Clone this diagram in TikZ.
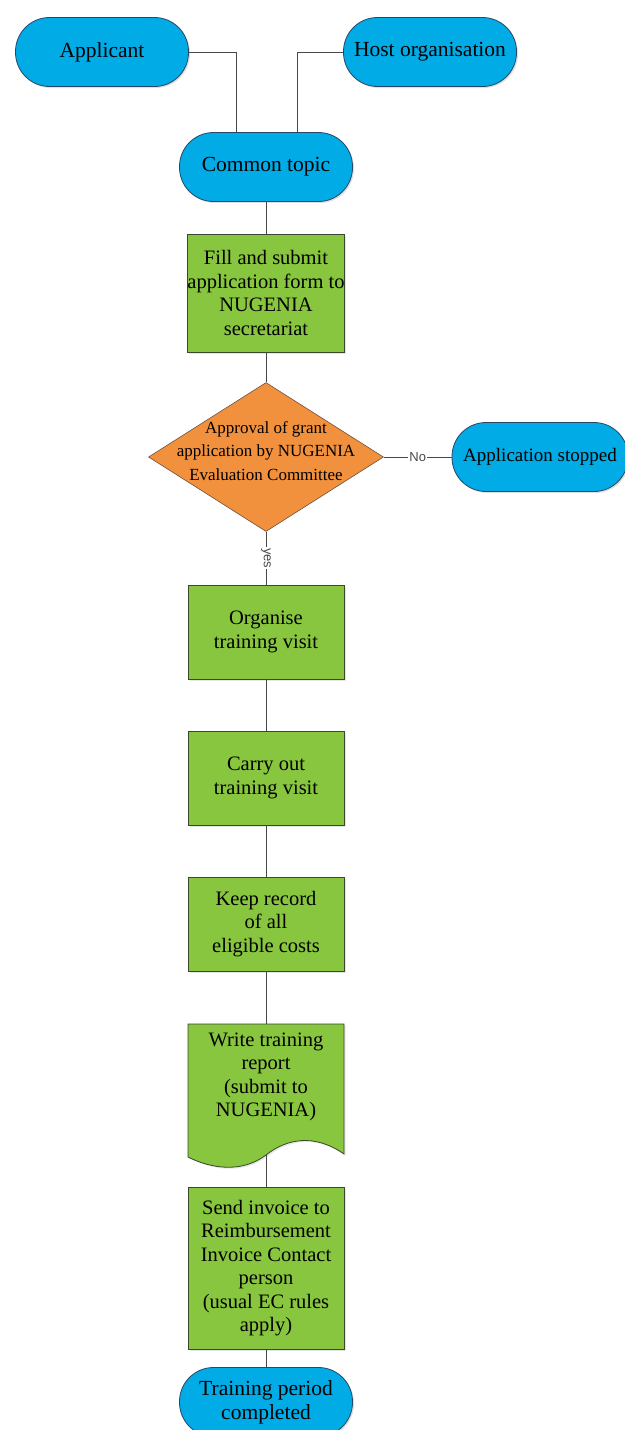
\documentclass[tikz,border=0pt]{standalone}
\usepackage{fontspec}
\setmainfont{Liberation Serif}
\setsansfont{Liberation Sans}
\usetikzlibrary{shapes,arrows,calc,shadows}

\definecolor{termblue}{RGB}{0,171,230}
\definecolor{termline}{RGB}{38,72,104}
\definecolor{actgreen}{RGB}{135,198,62}
\definecolor{actline}{RGB}{58,72,44}
\definecolor{askorange}{RGB}{241,145,62}
\definecolor{askline}{RGB}{110,80,60}
\definecolor{wire}{RGB}{72,72,72}

\begin{document}
\begin{tikzpicture}
  [
    x=1pt, y=-1pt,
    term/.style =
      {draw=termline, fill=termblue, line width=0.8pt, rounded corners=34pt,
       minimum width=173pt, minimum height=69pt, align=center,
       font=\fontsize{21.5}{24}\selectfont,
       drop shadow={opacity=0.25, shadow xshift=1.5pt, shadow yshift=-1.5pt}},
    act/.style =
      {draw=actline, fill=actgreen, line width=0.8pt, minimum width=156pt,
       inner xsep=0pt, align=center, font=\fontsize{20.5}{23.5}\selectfont,
       drop shadow={opacity=0.2, shadow xshift=1.5pt, shadow yshift=-1.5pt}},
    ask/.style =
      {diamond, draw=askline, fill=askorange, line width=0.6pt, inner sep=0pt,
       minimum width=235pt, minimum height=149pt},
    tag/.style =
      {fill=white, inner sep=1pt, text=wire, font=\sffamily\fontsize{13}{13}\selectfont},
    wire/.style = {draw=wire, line width=1pt}
  ]
  \useasboundingbox (0,0) rectangle (624,1430);

  \node [term] at (102, 52) (applicant) {Applicant};
  \node [term] at (430, 52) (host) {Host organisation};
  \node [term] at (266,167) (common) {Common topic};

  \node [act, minimum height=118pt] at (266, 293) (fill) {Fill and submit\\application form to\\NUGENIA\\secretariat};

  \node [ask] at (266, 457) (approve) {};
  \node [align=center, font=\fontsize{17}{23.5}\selectfont] at ([yshift=6pt]approve.center) (approvetext)
    {Approval of grant\\application by NUGENIA\\Evaluation Committee};

  \node [term, minimum width=176pt, font=\fontsize{19}{23}\selectfont] at (540, 457) (stopped) {Application stopped};

  \node [act, minimum height=94pt] at (266, 632) (organise) {Organise\\training visit};
  \node [act, minimum height=94pt] at (266, 778) (carry) {Carry out\\training visit};
  \node [act, minimum height=94pt] at (266, 924) (keep) {Keep record\\of all\\eligible costs};

  \coordinate (reportc) at (266,1077);
  \draw [draw=actline, fill=actgreen, line width=0.8pt,
         drop shadow={opacity=0.2, shadow xshift=1.5pt, shadow yshift=-1.5pt}]
    ($(reportc)+(-78,-53)$) -- ($(reportc)+(78,-53)$) -- ($(reportc)+(78,77)$)
    .. controls ($(reportc)+(48,56)$) and ($(reportc)+(20,62)$) .. ($(reportc)+(0,78)$)
    .. controls ($(reportc)+(-24,96)$) and ($(reportc)+(-54,92)$) .. ($(reportc)+(-78,80)$)
    -- cycle;
  \node [align=center, font=\fontsize{20.5}{23.5}\selectfont] at (reportc) (report)
    {Write training\\report\\(submit to\\NUGENIA)};
  \coordinate (reporttop) at ($(reportc)+(0,-53)$);
  \coordinate (reportfoot) at ($(reportc)+(0,78)$);

  \node [act, minimum height=162pt] at (266,1268) (invoice)
    {Send invoice to\\Reimbursement\\Invoice Contact\\person\\(usual EC rules\\apply)};
  \node [term] at (266,1402) (done) {Training period\\completed};

  \draw [wire] (applicant.east) -| ([xshift=-30pt]common.north);
  \draw [wire] (host.west) -| ([xshift=31pt]common.north);
  \draw [wire] (common.south) -- (fill.north);
  \draw [wire] (fill.south) -- (approve.north);
  \draw [wire] (approve.east) -- node [tag] {No} (stopped.west);
  \draw [wire] (approve.south) -- node [tag, rotate=-90] {yes} (organise.north);
  \draw [wire] (organise.south) -- (carry.north);
  \draw [wire] (carry.south) -- (keep.north);
  \draw [wire] (keep.south) -- (reporttop);
  \draw [wire] (reportfoot) -- (invoice.north);
  \draw [wire] (invoice.south) -- (done.north);

\end{tikzpicture}
\end{document}
